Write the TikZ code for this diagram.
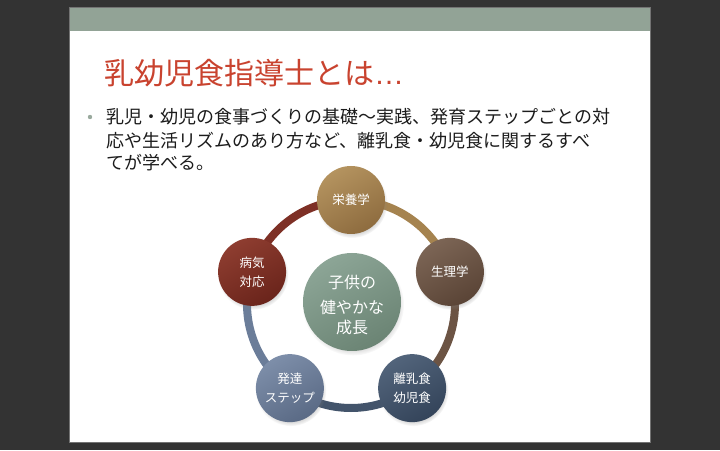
\documentclass[tikz,border=0pt]{standalone}
\usepackage{fontspec}
\newfontfamily\jp{Noto Sans CJK JP}
\newfontfamily\latn{Liberation Sans}
\usetikzlibrary{shadows}
\definecolor{bgdark}{HTML}{333333}
\definecolor{bandc}{HTML}{92A396}
\definecolor{titlered}{HTML}{C9432F}
\definecolor{bodyc}{HTML}{1C1C1C}
\definecolor{bulletc}{HTML}{9AAA9E}
\definecolor{tanL}{HTML}{B4935F}\definecolor{tanD}{HTML}{8E6C3F}\definecolor{tanM}{HTML}{A5834F}
\definecolor{brnL}{HTML}{7C6555}\definecolor{brnD}{HTML}{5A4436}\definecolor{brnM}{HTML}{6C5444}
\definecolor{slaL}{HTML}{52647B}\definecolor{slaD}{HTML}{34445A}\definecolor{slaM}{HTML}{43546B}
\definecolor{bluL}{HTML}{7D8EA9}\definecolor{bluD}{HTML}{5A6A85}\definecolor{bluM}{HTML}{6B7D99}
\definecolor{redL}{HTML}{8E3D30}\definecolor{redD}{HTML}{6A241B}\definecolor{redM}{HTML}{7E3026}
\definecolor{grnL}{HTML}{8CA596}\definecolor{grnD}{HTML}{6B8474}\definecolor{grnM}{HTML}{7C9686}
\tikzset{
  ring/.style={line width=8pt},
  shade2/.style 2 args={top color=#1, bottom color=#2, shading angle=30},
  bubble/.style={circle, minimum size=68pt, inner sep=0pt, text=white, align=center,
    font=\jp\fontsize{12.5}{19}\selectfont,
    circular drop shadow={shadow xshift=1pt, shadow yshift=-2.5pt, shadow scale=1.04, opacity=0.35}},
  bodyline/.style={anchor=west, inner sep=0pt, text=bodyc, font=\jp\fontsize{18}{22}\selectfont},
}
\begin{document}
\begin{tikzpicture}[x=1pt,y=1pt]
\useasboundingbox (0,0) rectangle (720,450);
\fill[bgdark] (0,0) rectangle (720,450);
\fill[white] (69,8) rectangle (650,443);
\fill[bandc] (69,419) rectangle (650,443);
\draw[black!55, line width=0.8pt] (69,8) rectangle (650,443);

\node[anchor=west, inner sep=0pt, text=titlered, font=\jp\fontsize{30}{36}\selectfont] (title) at (104,377) {乳幼児食指導士とは{\latn …}};

\node[circle, fill=bulletc, minimum size=4.4pt, inner sep=0pt] (dot) at (90,333) {};
\node[bodyline] (l1) at (106,333) {乳児・幼児の食事づくりの基礎～実践、発育ステップごとの対};
\node[bodyline] (l2) at (106,309) {応や生活リズムのあり方など、離乳食・幼児食に関するすべ};
\node[bodyline] (l3) at (106,287) {てが学べる。};

\coordinate (O) at (351,146);
\coordinate (pA) at ([shift={(90:104)}]O);
\coordinate (pB) at ([shift={(18:104)}]O);
\coordinate (pC) at ([shift={(-54:104)}]O);
\coordinate (pD) at ([shift={(-126:104)}]O);
\coordinate (pE) at ([shift={(162:104)}]O);

\draw[ring, tanM] (pA) arc[start angle=90, end angle=18, radius=104];
\draw[ring, brnM] (pB) arc[start angle=18, end angle=-54, radius=104];
\draw[ring, slaM] (pC) arc[start angle=-54, end angle=-126, radius=104];
\draw[ring, bluM] (pD) arc[start angle=-126, end angle=-198, radius=104];
\draw[ring, redM] (pE) arc[start angle=162, end angle=90, radius=104];

\node[bubble, shade2={tanL}{tanD}] (A) at (pA) {栄養学};
\node[bubble, shade2={brnL}{brnD}] (B) at (pB) {生理学};
\node[bubble, shade2={slaL}{slaD}] (C) at (pC) {離乳食\\幼児食};
\node[bubble, shade2={bluL}{bluD}] (D) at (pD) {発達\\ステップ};
\node[bubble, shade2={redL}{redD}] (E) at (pE) {病気\\対応};

\node[bubble, minimum size=98pt, shade2={grnL}{grnD}] (M) at (352,148) {};
\node[inner sep=0pt, text=white, align=center, font=\jp\fontsize{16}{20}\selectfont] (Mt) at (352,145) {子供の\\[5pt]健やかな\\成長};
\end{tikzpicture}
\end{document}
